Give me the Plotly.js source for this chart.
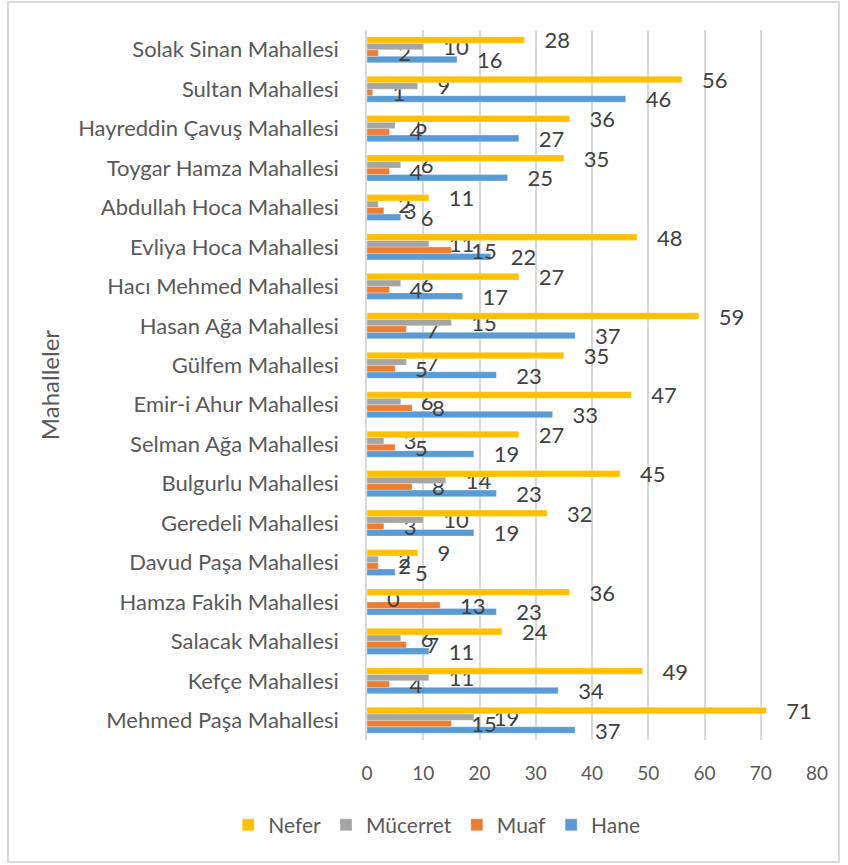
<!DOCTYPE html>
<html>
<head>
<meta charset="utf-8">
<script src="https://cdn.plot.ly/plotly-3.0.1.min.js"></script>
<style>
html,body{margin:0;padding:0;background:#fff;}
#frame{position:absolute;left:7px;top:1px;width:833px;height:862px;border:2px solid #d9d9d9;box-sizing:border-box;}
#chart{position:absolute;left:0;top:0;width:848px;height:865px;}
</style>
</head>
<body>
<div id="frame"></div>
<div id="chart"></div>
<script>
// Categories listed bottom to top
const categories = [
  "Mehmed Paşa Mahallesi",
  "Kefçe Mahallesi",
  "Salacak Mahallesi",
  "Hamza Fakih Mahallesi",
  "Davud Paşa Mahallesi",
  "Geredeli Mahallesi",
  "Bulgurlu Mahallesi",
  "Selman Ağa Mahallesi",
  "Emir-i Ahur Mahallesi",
  "Gülfem Mahallesi",
  "Hasan Ağa Mahallesi",
  "Hacı Mehmed Mahallesi",
  "Evliya Hoca Mahallesi",
  "Abdullah Hoca Mahallesi",
  "Toygar Hamza Mahallesi",
  "Hayreddin Çavuş Mahallesi",
  "Sultan Mahallesi",
  "Solak Sinan Mahallesi"
];
const hane     = [37, 34, 11, 23, 5, 19, 23, 19, 33, 23, 37, 17, 22, 6, 25, 27, 46, 16];
const muaf     = [15, 4, 7, 13, 2, 3, 8, 5, 8, 5, 7, 4, 15, 3, 4, 4, 1, 2];
const mucerret = [19, 11, 6, 0, 2, 10, 14, 3, 6, 7, 15, 6, 11, 2, 6, 5, 9, 10];
const nefer    = [71, 49, 24, 36, 9, 32, 45, 27, 47, 35, 59, 27, 48, 11, 35, 36, 56, 28];
const xTicks   = [0, 10, 20, 30, 40, 50, 60, 70, 80];

const series = [
  {name: "Hane", values: hane, color: "#5B9BD5"},
  {name: "Muaf", values: muaf, color: "#ED7D31"},
  {name: "Mücerret", values: mucerret, color: "#A5A5A5"},
  {name: "Nefer", values: nefer, color: "#FFC000"}
];

const FONT = "Lato, 'Noto Sans', sans-serif";
const pad = "\u00a0\u00a0\u00a0";

const traces = series.map(s => ({
  type: "bar",
  orientation: "h",
  name: s.name,
  y: categories,
  x: s.values,
  marker: {color: s.color, line: {color: "rgba(255,255,255,0.6)", width: 0.5}},
  text: s.values.map(v => pad + v),
  textposition: "outside",
  constraintext: "none",
  cliponaxis: false,
  textfont: {family: FONT, size: 22, color: "#404040"},
  hoverinfo: "x+y+name"
}));

const layout = {
  width: 848,
  height: 865,
  paper_bgcolor: "rgba(0,0,0,0)",
  plot_bgcolor: "rgba(0,0,0,0)",
  margin: {l: 367, r: 31, t: 30, b: 125},
  barmode: "group",
  bargap: 0.34,
  bargroupgap: 0,
  showlegend: true,
  legend: {
    orientation: "h",
    traceorder: "reversed",
    xref: "container", yref: "container",
    x: 0.515, xanchor: "center",
    y: 0.046, yanchor: "middle",
    itemwidth: 30,
    font: {family: FONT, size: 21, color: "#595959"},
    itemclick: false
  },
  xaxis: {
    range: [0, 80],
    tickvals: xTicks,
    ticktext: xTicks.map(String),
    showgrid: true,
    gridcolor: "#d9d9d9",
    gridwidth: 1.5,
    zeroline: false,
    showline: false,
    ticks: "",
    ticklabelstandoff: 20,
    tickfont: {family: FONT, size: 19, color: "#595959"},
    fixedrange: true
  },
  yaxis: {
    type: "category",
    categoryorder: "array",
    categoryarray: categories,
    showgrid: false,
    zeroline: false,
    showline: true,
    linecolor: "#d9d9d9",
    linewidth: 1.5,
    ticks: "",
    ticklabelstandoff: 22,
    tickfont: {family: FONT, size: 22, color: "#595959"},
    title: {text: "Mahalleler", font: {family: FONT, size: 24, color: "#595959"}, standoff: 12},
    fixedrange: true
  },
  font: {family: FONT, color: "#595959"}
};

Plotly.newPlot("chart", traces, layout, {displayModeBar: false});
</script>
</body>
</html>
